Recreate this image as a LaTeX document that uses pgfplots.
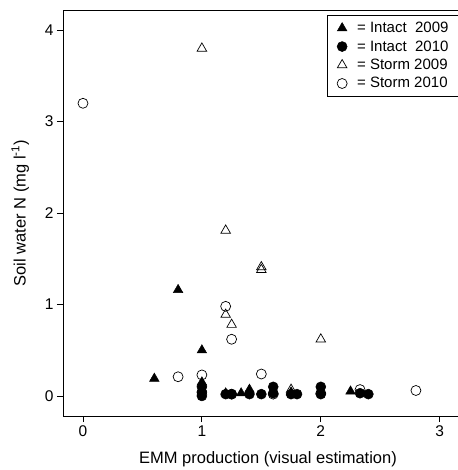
\documentclass[border=0pt]{standalone}
\usepackage{fontspec}
\setmainfont{Liberation Sans}
\usepackage{pgfplots}
\pgfplotsset{compat=1.18}
\begin{document}
\begin{tikzpicture}
\begin{axis}[
  scale only axis, width=410pt, height=406pt,
  xmin=-0.168, xmax=3.28, ymin=-0.219, ymax=4.22,
  xtick={0,1,2,3}, ytick={0,1,2,3,4},
  tick align=outside, major tick length=6pt,
  xtick pos=bottom, ytick pos=left,
  tick style={black, line width=0.8pt},
  axis line style={line width=0.8pt},
  /pgf/number format/assume math mode=true,
  ticklabel style={font=\fontsize{15.5}{18}\selectfont},
  label style={font=\fontsize{16.5}{19}\selectfont},
  xlabel={EMM production (visual estimation)},
  ylabel={Soil water N (mg l\textsuperscript{-1})},
  xlabel style={yshift=-8pt},
  ylabel style={yshift=9pt},
  legend style={at={(axis cs:2.05,3.27)}, anchor=south west,
    font=\fontsize{15}{18.5}\selectfont, draw=black, line width=0.8pt,
    row sep=2.5pt, inner xsep=10pt, inner ysep=5pt},
  legend cell align=left,
]
\addplot[only marks, mark=triangle*, mark size=5.5pt, mark options={fill=black, draw=black, line width=0.5pt}]
coordinates {(0.6,0.19) (0.8,1.16) (1.0,0.50) (1.0,0.15) (1.0,0.08) (1.2,0.03) (1.33,0.03) (1.4,0.07) (1.6,0.04) (1.75,0.04) (2.0,0.05) (2.25,0.05)};
\addlegendentry{\hspace{8pt}= Intact\ \ 2009}
\addplot[only marks, mark=*, mark size=5pt, mark options={fill=black, draw=black, line width=0.5pt}]
coordinates {(1.0,0.0) (1.0,0.04) (1.0,0.1) (1.2,0.02) (1.25,0.02) (1.4,0.02) (1.5,0.02) (1.6,0.1) (1.6,0.03) (1.75,0.02) (1.8,0.02) (2.0,0.1) (2.0,0.02) (2.33,0.03) (2.4,0.02)};
\addlegendentry{\hspace{8pt}= Intact\ \ 2010}
\addplot[only marks, mark=triangle, mark size=5.5pt, mark options={draw=black, line width=0.7pt}]
coordinates {(1.0,3.80) (1.2,1.81) (1.5,1.41) (1.5,1.38) (1.2,0.89) (1.25,0.78) (2.0,0.62) (1.75,0.07) (1.6,0.05) (1.0,0.05)};
\addlegendentry{\hspace{8pt}= Storm 2009}
\addplot[only marks, mark=o, mark size=5pt, mark options={draw=black, line width=0.7pt}]
coordinates {(0,3.20) (1.2,0.98) (1.25,0.62) (1.5,0.24) (0.8,0.21) (1.0,0.23) (2.33,0.07) (2.8,0.06) (1.6,0.02) (2.0,0.03) (1.25,0.02)};
\addlegendentry{\hspace{8pt}= Storm 2010}
\end{axis}
\pgfresetboundingbox
\path[use as bounding box] ([xshift=-63pt, yshift=-54pt]current axis.south west) rectangle ++(457pt,470pt);
\end{tikzpicture}
\end{document}
